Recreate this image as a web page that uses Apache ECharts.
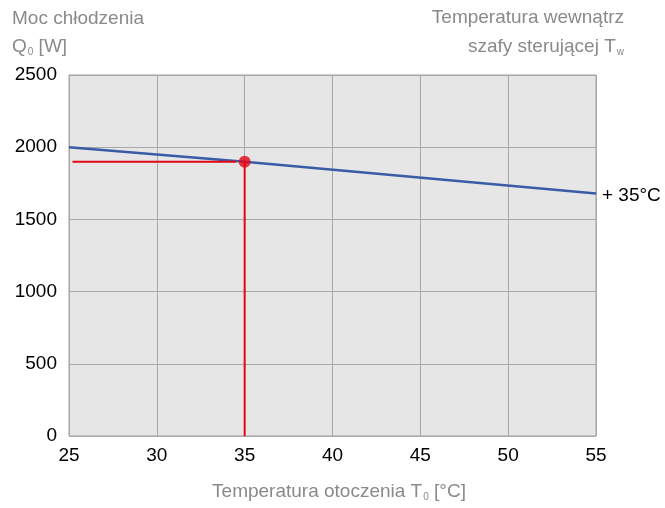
<!DOCTYPE html>
<html>
<head>
<meta charset="utf-8">
<script src="https://cdn.jsdelivr.net/npm/echarts@6/dist/echarts.min.js"></script>
<style>
  html, body { margin: 0; padding: 0; background: #fff; }
  #chart { width: 665px; height: 508px; }
</style>
</head>
<body>
<div id="chart"></div>
<script>
// data
const tempOutside = [25, 35, 55];
const coolingPower = [2000, 1900, 1680];
const xTicks = [25, 30, 35, 40, 45, 50, 55];
const yTicks = [0, 500, 1000, 1500, 2000, 2500];
const markPoint = [35, 1900];
const markStartX = 25.2;
const curveLabel = '+ 35°C';

const titleFont = '"Liberation Sans", Arial, sans-serif';
const labelFont = '"Liberation Sans", Arial, sans-serif';
const grey = '#8a8a8a';
const subStyle = { fontFamily: titleFont, fontSize: 10, fill: grey, padding: [10, 0, 0, 1] };

const myChart = echarts.init(document.getElementById('chart'));

function titleText(x, y, text, align) {
  return {
    type: 'text',
    x: x, y: y,
    style: {
      text: text,
      fill: grey,
      font: '19px ' + titleFont,
      align: align,
      verticalAlign: 'middle',
      rich: { sub: subStyle }
    }
  };
}

let option = {
  animation: false,
  backgroundColor: '#fff',
  grid: {
    left: 69, right: 69, top: 75, bottom: 72,
    show: true,
    backgroundColor: '#e6e6e6',
    borderColor: '#a0a0a0',
    borderWidth: 1
  },
  graphic: [
    titleText(12, 19, 'Moc chłodzenia', 'left'),
    titleText(12, 47, 'Q{sub|0} [W]', 'left'),
    titleText(624, 18, 'Temperatura wewnątrz', 'right'),
    titleText(624, 47, 'szafy sterującej T{sub|w}', 'right'),
    titleText(339, 492, 'Temperatura otoczenia T{sub|0} [°C]', 'center')
  ],
  xAxis: {
    type: 'value',
    min: xTicks[0], max: xTicks[xTicks.length - 1], interval: 5,
    axisLine: { show: false },
    axisTick: { show: false },
    splitLine: { show: true, lineStyle: { color: '#a8a8a8', width: 1 } },
    axisLabel: { color: '#000', fontSize: 19, fontFamily: labelFont, margin: 10 }
  },
  yAxis: {
    type: 'value',
    min: yTicks[0], max: yTicks[yTicks.length - 1], interval: 500,
    axisLine: { show: false },
    axisTick: { show: false },
    splitLine: { show: true, lineStyle: { color: '#a8a8a8', width: 1 } },
    axisLabel: {
      color: '#000', fontSize: 19, fontFamily: labelFont, margin: 12,
      formatter: v => String(v)
    }
  },
  series: [
    {
      type: 'line',
      data: tempOutside.map((t, i) => [t, coolingPower[i]]),
      symbol: 'none',
      lineStyle: { color: '#3a5ca6', width: 2.5 },
      endLabel: {
        show: true, formatter: curveLabel, color: '#000', fontSize: 19,
        fontFamily: labelFont, distance: 6, offset: [0, 2]
      },
      z: 3
    },
    {
      type: 'line',
      data: [[markStartX, markPoint[1]], [markPoint[0] - 0.5, markPoint[1]]],
      symbol: 'none',
      lineStyle: { color: '#e30613', width: 2 },
      z: 4
    },
    {
      type: 'line',
      data: [[markPoint[0], markPoint[1]], [markPoint[0], 0]],
      symbol: 'none',
      lineStyle: { color: '#e30613', width: 2 },
      z: 4
    },
    {
      type: 'scatter',
      data: [markPoint],
      symbolSize: 12,
      itemStyle: { color: '#e30613' },
      z: 5
    }
  ]
};

myChart.setOption(option);
</script>
</body>
</html>
